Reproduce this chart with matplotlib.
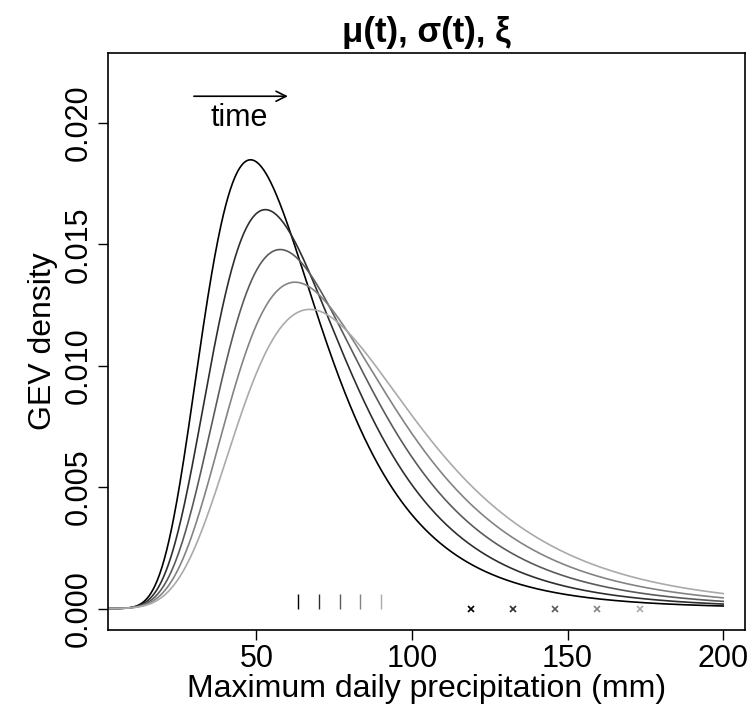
import numpy as np
import matplotlib.pyplot as plt

plt.rcParams['font.family'] = ['Liberation Sans', 'DejaVu Sans']

# GEV parameters for the five time points (mode, peak, mean)
mu = [50, 55, 60, 65, 70]
sigma = [20, 22.5, 25, 27.5, 30]
xi = 0.1
# rug positions (means) and crosses (return levels)
means = [63.3, 70.2, 76.9, 83.4, 90.0]
ret_levels = [118.8, 132.5, 146.1, 159.6, 173.4]
colors = ['#000000', '#2e2e2e', '#5a5a5a', '#838383', '#aaaaaa']

x = np.linspace(1, 200, 800)

def gev_pdf(x, m, s, k):
    z = 1 + k * (x - m) / s
    t = z ** (-1 / k)
    return t ** (k + 1) * np.exp(-t) / s

fig = plt.figure(figsize=(7.5, 7.07), dpi=100)
ax = fig.add_axes([0.1436, 0.109, 0.8497, 0.816])

for m, s, c in zip(mu, sigma, colors):
    ax.plot(x, gev_pdf(x, m, s, xi), color=c, lw=1.2)

for mn, rl, c in zip(means, ret_levels, colors):
    ax.vlines(mn, 0, 0.0006, color=c, lw=1.0)
    ax.plot(rl, 0, marker='x', color=c, ms=4, mew=1.2)

ax.set_xlim(2.2, 207.0)
ax.set_ylim(-0.00088, 0.02288)
ax.set_xticks([50, 100, 150, 200])
ax.set_yticks([0, 0.005, 0.01, 0.015, 0.02])
ax.set_yticklabels(['0.000', '0.005', '0.010', '0.015', '0.020'], rotation=90, va='center')
ax.tick_params(labelsize=22, length=7, width=1, direction='out', pad=3)

ax.set_xlabel('Maximum daily precipitation (mm)', fontsize=23, labelpad=0)
ax.set_ylabel('GEV density', fontsize=23, labelpad=4)
ax.set_title('μ(t), σ(t), ξ', fontsize=25, fontweight='bold', pad=8)

ax.annotate('', xy=(61, 0.0211), xytext=(29, 0.0211),
            arrowprops=dict(arrowstyle='->', lw=1.2, color='black', mutation_scale=18))
ax.text(44.5, 0.0202, 'time', fontsize=22, ha='center', va='center')

for sp in ax.spines.values():
    sp.set_linewidth(1.2)

fig.savefig('out.png', dpi=100)
